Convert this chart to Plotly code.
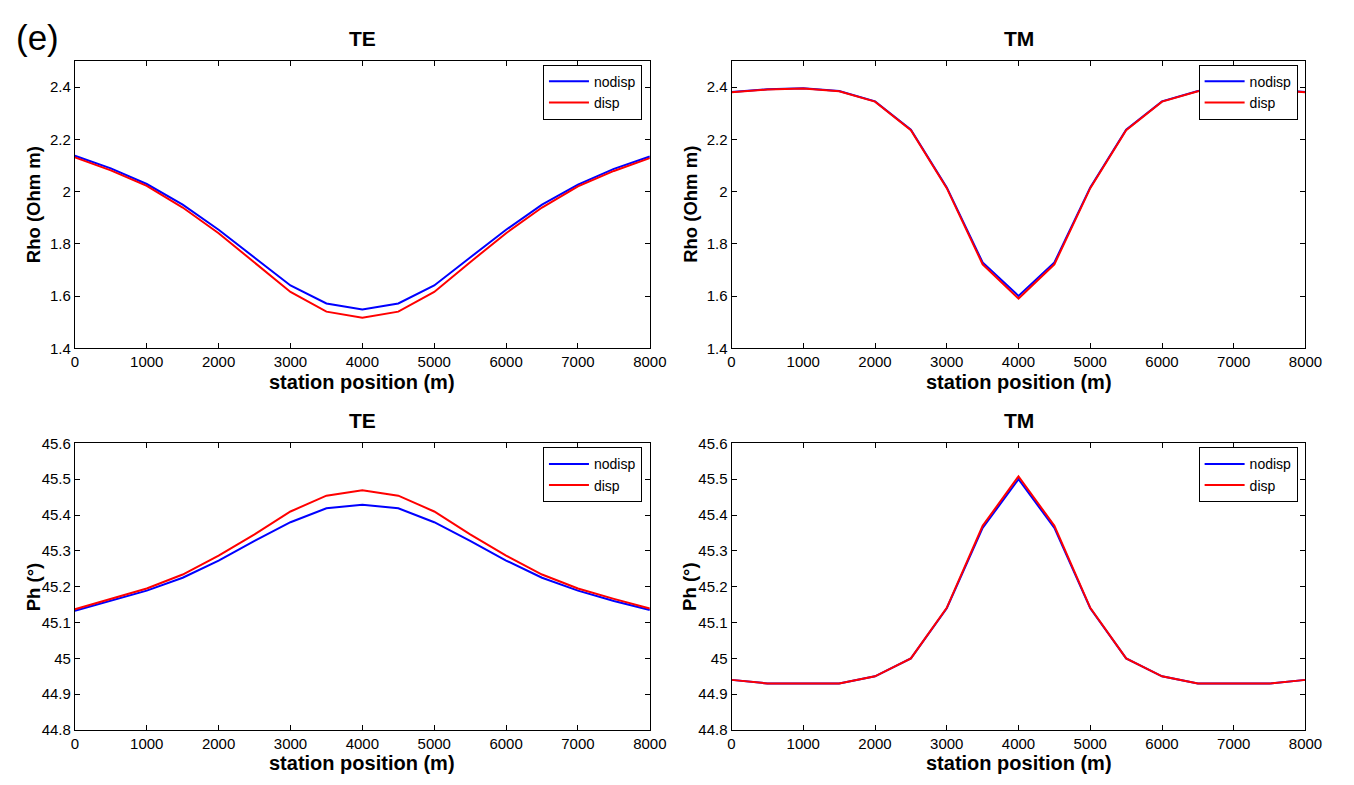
import plotly.graph_objects as go

station = [0, 500, 1000, 1500, 2000, 2500, 3000, 3500, 4000, 4500, 5000, 5500, 6000, 6500, 7000, 7500, 8000]

te_rho_nodisp = [2.137, 2.089, 2.029, 1.950, 1.854, 1.748, 1.641, 1.572, 1.549, 1.572, 1.641, 1.748, 1.854, 1.950, 2.027, 2.087, 2.134]
te_rho_disp   = [2.131, 2.081, 2.022, 1.939, 1.841, 1.730, 1.616, 1.541, 1.518, 1.541, 1.616, 1.730, 1.841, 1.939, 2.020, 2.079, 2.128]

tm_rho_nodisp = [2.381, 2.391, 2.395, 2.385, 2.345, 2.237, 2.016, 1.729, 1.601, 1.729, 2.016, 2.237, 2.345, 2.385, 2.395, 2.391, 2.381]
tm_rho_disp   = [2.380, 2.390, 2.394, 2.384, 2.344, 2.235, 2.013, 1.722, 1.591, 1.722, 2.013, 2.235, 2.344, 2.384, 2.394, 2.390, 2.380]

te_ph_nodisp = [45.133, 45.160, 45.189, 45.225, 45.273, 45.328, 45.380, 45.419, 45.429, 45.419, 45.380, 45.328, 45.273, 45.225, 45.189, 45.160, 45.135]
te_ph_disp   = [45.137, 45.166, 45.195, 45.234, 45.287, 45.346, 45.410, 45.454, 45.469, 45.454, 45.410, 45.346, 45.287, 45.234, 45.195, 45.166, 45.139]

tm_ph_nodisp = [44.940, 44.930, 44.930, 44.930, 44.950, 45.000, 45.140, 45.364, 45.500, 45.364, 45.140, 45.000, 44.950, 44.930, 44.930, 44.930, 44.940]
tm_ph_disp   = [44.940, 44.930, 44.930, 44.930, 44.950, 45.000, 45.141, 45.370, 45.508, 45.370, 45.141, 45.000, 44.950, 44.930, 44.930, 44.930, 44.940]

W, H = 1354, 785
FONT = "Liberation Sans, Arial, Helvetica, sans-serif"

# pixel boxes for each panel: (left, right, top, bottom)
panels = [
    (72, 656, 53, 347),
    (739, 1322, 53, 347),
    (72, 656, 444, 737),
    (739, 1322, 444, 737),
]
titles = ["TE", "TM", "TE", "TM"]
ylabels = ["Rho (Ohm m)", "Rho (Ohm m)", "Ph (°)", "Ph (°)"]
yranges = [[1.4, 2.5], [1.4, 2.5], [44.8, 45.6], [44.8, 45.6]]
ydticks = [0.2, 0.2, 0.1, 0.1]
data = [
    (te_rho_nodisp, te_rho_disp),
    (tm_rho_nodisp, tm_rho_disp),
    (te_ph_nodisp, te_ph_disp),
    (tm_ph_nodisp, tm_ph_disp),
]

fig = go.Figure()
layout = dict(
    width=W, height=H, autosize=False,
    margin=dict(l=0, r=0, t=0, b=0, pad=0),
    paper_bgcolor="white", plot_bgcolor="white",
    font=dict(family=FONT, size=14, color="black"),
    showlegend=True,
)
annotations = []

for i, ((l, r, t, b), title, ylab, yr, dt, (nd, dp)) in enumerate(
        zip(panels, titles, ylabels, yranges, ydticks, data)):
    n = i + 1
    xa = "x" if n == 1 else f"x{n}"
    ya = "y" if n == 1 else f"y{n}"
    lg = "legend" if n == 1 else f"legend{n}"
    fig.add_trace(go.Scatter(x=station, y=nd, mode="lines", name="nodisp",
                             line=dict(color="#0000ff", width=2),
                             xaxis=xa, yaxis=ya, legend=lg))
    fig.add_trace(go.Scatter(x=station, y=dp, mode="lines", name="disp",
                             line=dict(color="#ff0000", width=2),
                             xaxis=xa, yaxis=ya, legend=lg))
    axkey_x = "xaxis" if n == 1 else f"xaxis{n}"
    axkey_y = "yaxis" if n == 1 else f"yaxis{n}"
    layout[axkey_x] = dict(
        domain=[l / W, r / W], anchor=ya, range=[0, 8000], dtick=1000,
        showline=True, linecolor="black", linewidth=1, mirror="ticks",
        ticks="inside", ticklen=5, tickcolor="black", showgrid=False,
        zeroline=False, tickfont=dict(size=15, family=FONT),
    )
    layout[axkey_y] = dict(
        domain=[1 - b / H, 1 - t / H], anchor=xa, range=yr, dtick=dt,
        tick0=yr[0],
        showline=True, linecolor="black", linewidth=1, mirror="ticks",
        ticks="inside", ticklen=5, tickcolor="black", showgrid=False,
        zeroline=False, tickfont=dict(size=15, family=FONT),
    )
    layout[lg] = dict(
        x=(r - 8) / W, y=1 - (t + 4) / H, xanchor="right", yanchor="top",
        xref="paper", yref="paper",
        bgcolor="white", bordercolor="black", borderwidth=1,
        font=dict(size=14, family=FONT), tracegroupgap=0,
        itemwidth=40,
    )
    annotations.append(dict(x=(l + r) / 2 / W, y=1 - (t - 23) / H, xref="paper", yref="paper",
                            text=f"<b>{title}</b>", showarrow=False,
                            font=dict(size=21, family=FONT), xanchor="center", yanchor="middle"))
    annotations.append(dict(x=(l + r) / 2 / W, y=1 - (b + 34) / H, xref="paper", yref="paper",
                            text="<b>station position (m)</b>", showarrow=False,
                            font=dict(size=20, family=FONT), xanchor="center", yanchor="middle"))
    annotations.append(dict(x=(l - 42) / W, y=1 - (t + b) / 2 / H, xref="paper", yref="paper",
                            text=f"<b>{ylab}</b>", showarrow=False, textangle=-90,
                            font=dict(size=18.5, family=FONT), xanchor="center", yanchor="middle"))

annotations.append(dict(x=10 / W, y=1 - 29 / H, xref="paper", yref="paper",
                        text="(e)", showarrow=False, xanchor="left", yanchor="middle",
                        font=dict(size=35, family=FONT)))
layout["annotations"] = annotations
fig.update_layout(**layout)
fig.write_html("out.html", config={"responsive": False})
